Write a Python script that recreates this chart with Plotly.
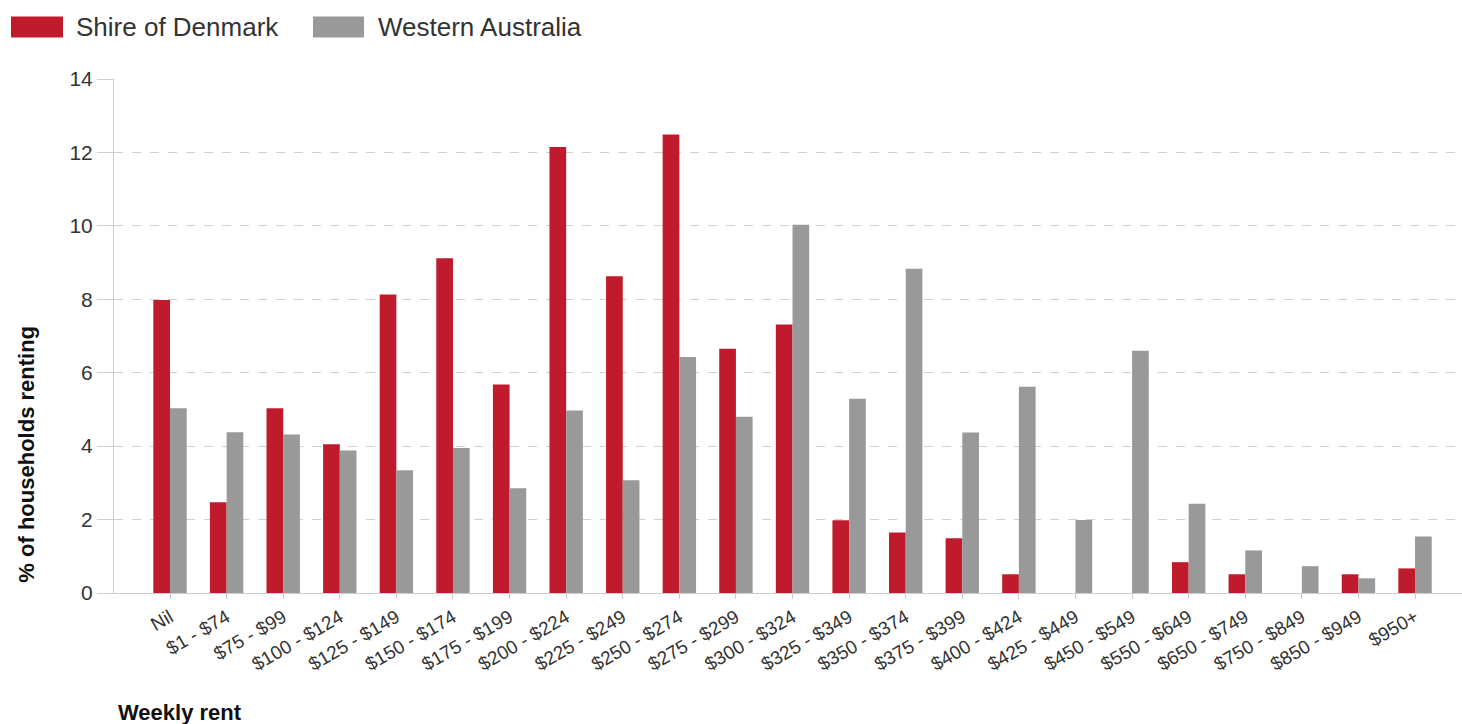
import plotly.graph_objects as go

categories = ["Nil", "$1 - $74", "$75 - $99", "$100 - $124", "$125 - $149", "$150 - $174",
              "$175 - $199", "$200 - $224", "$225 - $249", "$250 - $274", "$275 - $299",
              "$300 - $324", "$325 - $349", "$350 - $374", "$375 - $399", "$400 - $424",
              "$425 - $449", "$450 - $549", "$550 - $649", "$650 - $749", "$750 - $849",
              "$850 - $949", "$950+"]
denmark = [7.98, 2.47, 5.03, 4.05, 8.13, 9.12, 5.68, 12.15, 8.63, 12.49, 6.65,
           7.31, 1.98, 1.65, 1.49, 0.51, 0.0, 0.0, 0.84, 0.51, 0.0, 0.51, 0.67]
wa = [5.03, 4.38, 4.32, 3.88, 3.34, 3.95, 2.85, 4.97, 3.07, 6.43, 4.80,
      10.03, 5.29, 8.83, 4.37, 5.62, 1.99, 6.60, 2.43, 1.16, 0.73, 0.40, 1.54]
series_names = ["Shire of Denmark", "Western Australia"]
colors = ["#BF1B2C", "#999999"]

W, H = 1462, 724
L, R, T, B = 114, 0, 79, 130.5
PW, PH = W - L - R, H - T - B


def px(x):
    return (x - L) / PW


def py(y):
    return (H - B - y) / PH


fig = go.Figure()
for name, vals, col in zip(series_names, [denmark, wa], colors):
    fig.add_trace(go.Bar(x=categories, y=vals, name=name, marker_color=col,
                         marker_line_width=0, showlegend=False))

font_family = "Liberation Sans, Arial, sans-serif"
txt = "#333333"

shapes = []
annotations = []
# custom legend
leg = [(11, 63, 74), (313, 364, 376)]
for (x0, x1, tx), name, col in zip(leg, series_names, colors):
    shapes.append(dict(type="rect", xref="paper", yref="paper",
                       x0=px(x0), x1=px(x1), y0=py(37.5), y1=py(16.5),
                       fillcolor=col, line_width=0))
    annotations.append(dict(text=name, xref="paper", yref="paper", x=px(tx), y=py(27),
                            xanchor="left", yanchor="middle", showarrow=False,
                            font=dict(size=26, color=txt, family=font_family)))

annotations.append(dict(text="<b>% of households renting</b>", xref="paper", yref="paper",
                        x=px(27), y=py(455), textangle=-90, xanchor="center", yanchor="middle",
                        showarrow=False, font=dict(size=22, color="#111111", family=font_family)))
annotations.append(dict(text="<b>Weekly rent</b>", xref="paper", yref="paper",
                        x=px(116), y=py(713), xanchor="left", yanchor="middle",
                        showarrow=False, font=dict(size=22, color="#111111", family=font_family)))

fig.update_layout(
    width=W, height=H,
    margin=dict(l=L, r=R, t=T, b=B, pad=0),
    paper_bgcolor="white", plot_bgcolor="white",
    barmode="group", bargap=0.41, bargroupgap=0,
    font=dict(family=font_family, color=txt),
    shapes=shapes, annotations=annotations,
    showlegend=False,
)
fig.update_xaxes(range=[-0.99, 22.83], showgrid=False, showline=True, linecolor="#CCCCCC",
                 linewidth=1, ticks="outside", ticklen=5, tickcolor="#CCCCCC",
                 tickangle=-30, tickfont=dict(size=19, color=txt), zeroline=False)
fig.update_yaxes(range=[0, 14], dtick=2, showgrid=True, gridcolor="#D0D0D0", griddash="dash",
                 showline=True, linecolor="#CCCCCC", linewidth=1, ticks="outside", ticklen=16,
                 tickcolor="#D0D0D0", tickfont=dict(size=21, color=txt), zeroline=False)

fig.write_html("out.html", config={"displayModeBar": False},
               post_script="document.body.style.margin='0';document.body.style.overflow='hidden';")
